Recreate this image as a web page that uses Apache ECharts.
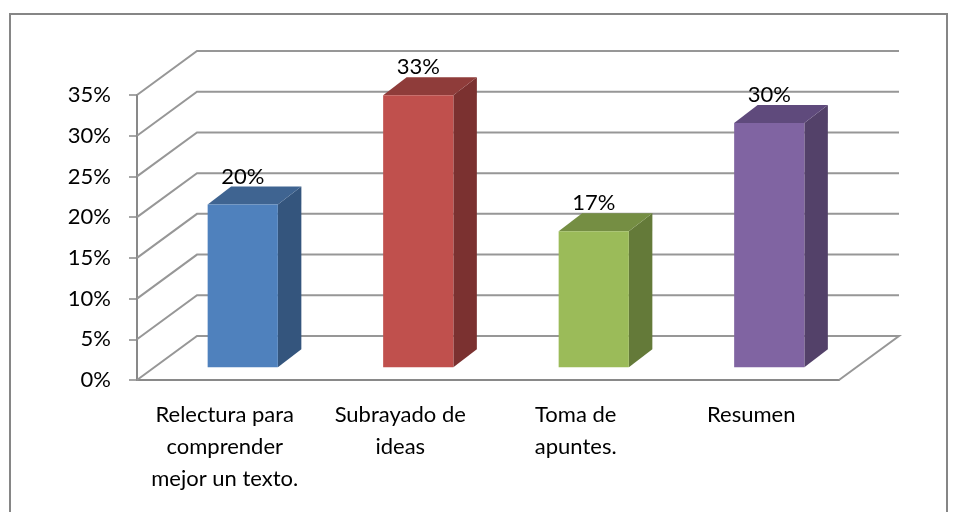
<!DOCTYPE html>
<html>
<head>
<meta charset="utf-8">
<style>
html, body { margin: 0; padding: 0; background: #fff; }
#chart { width: 957px; height: 512px; }
</style>
<script src="https://cdn.jsdelivr.net/npm/echarts@6/dist/echarts.min.js"></script>
</head>
<body>
<div id="chart"></div>
<script>
var categories = ['Relectura para\ncomprender\nmejor un texto.', 'Subrayado de\nideas', 'Toma de\napuntes.', 'Resumen'];
var values = [20, 33.4, 16.7, 30];
var valueLabels = ['20%', '33%', '17%', '30%'];
var wallTicks = [0, 5, 10, 15, 20, 25, 30, 35];
var frontColors = ['#4f81bd', '#c0504d', '#9bbb59', '#8064a2'];
var topColors = ['#3f6491', '#8f3c3a', '#758e43', '#5f4a7c'];
var sideColors = ['#34557d', '#7b3130', '#647a39', '#534169'];

// depth of the fake 3d box, px
var wallDx = 60, wallDy = -44;
var barDx = 23.5, barDy = -18;
var barOffX = 18, barOffY = -12.7;
var textFont = 'Lato';

var myChart = echarts.init(document.getElementById('chart'));

function renderWall(params, api) {
    var cs = params.coordSys;
    var v = api.value(0);
    var y = api.coord([0, v])[1];
    var x0 = cs.x, x1 = cs.x + cs.width;
    var pts = [[x0, y], [x0 + wallDx, y + wallDy], [x1 + wallDx, y + wallDy]];
    if (v === 0) {
        // floor closes on the right side
        pts.push([x1, y]);
    }
    return {
        type: 'polyline',
        shape: { points: pts },
        style: { stroke: '#979797', lineWidth: 2, fill: null }
    };
}

function renderBar(params, api) {
    var i = api.value(0);
    var top = api.coord([i, api.value(1)]);
    var base = api.coord([i, 0]);
    var w = api.size([1, 0])[0] * 0.4;
    var l = top[0] - w / 2 + barOffX, r = l + w;
    var t = top[1] + barOffY + 0, b = base[1] + barOffY;
    return {
        type: 'group',
        children: [{
            type: 'polygon',
            shape: { points: [[r, t], [r + barDx, t + barDy], [r + barDx, b + barDy], [r, b]] },
            style: { fill: sideColors[i] }
        }, {
            type: 'polygon',
            shape: { points: [[l, t], [l + barDx, t + barDy], [r + barDx, t + barDy], [r, t]] },
            style: { fill: topColors[i] }
        }, {
            type: 'rect',
            shape: { x: l, y: t, width: w, height: b - t },
            style: { fill: frontColors[i] }
        }, {
            type: 'text',
            style: {
                text: valueLabels[i],
                x: (l + r) / 2,
                y: t - 28,
                align: 'center',
                verticalAlign: 'middle',
                font: '22px ' + textFont,
                fill: '#000'
            }
        }]
    };
}

var option = {
    backgroundColor: '#fff',
    animation: false,
    graphic: [{
        type: 'polyline',
        shape: { points: [[10, 520], [10, 14], [947, 14], [947, 520]] },
        style: { stroke: '#868686', lineWidth: 2, fill: null }
    }],
    grid: { left: 137, right: 118, top: 95, bottom: 132 },
    xAxis: {
        type: 'category',
        data: categories,
        axisLine: { lineStyle: { color: '#898989', width: 2 } },
        axisTick: { length: 9, lineStyle: { color: '#898989', width: 1.5 } },
        axisLabel: {
            color: '#000',
            fontFamily: textFont,
            fontSize: 22,
            lineHeight: 32,
            margin: 19,
            interval: 0
        }
    },
    yAxis: {
        type: 'value',
        min: 0,
        max: 35,
        interval: 5,
        axisLine: { show: true, lineStyle: { color: '#898989', width: 2 } },
        axisTick: { show: true, length: 8, lineStyle: { color: '#898989', width: 1.5 } },
        splitLine: { show: false },
        axisLabel: {
            color: '#000',
            fontFamily: textFont,
            fontSize: 22,
            margin: 26,
            formatter: '{value}%'
        }
    },
    series: [{
        type: 'custom',
        coordinateSystem: 'cartesian2d',
        clip: false,
        silent: true,
        z: 1,
        encode: { y: 0 },
        data: wallTicks.map(function (v) { return [v]; }),
        renderItem: renderWall
    }, {
        type: 'custom',
        coordinateSystem: 'cartesian2d',
        clip: false,
        z: 2,
        encode: { x: 0, y: 1 },
        data: values.map(function (v, i) { return [i, v]; }),
        renderItem: renderBar
    }]
};

myChart.setOption(option);
</script>
</body>
</html>
